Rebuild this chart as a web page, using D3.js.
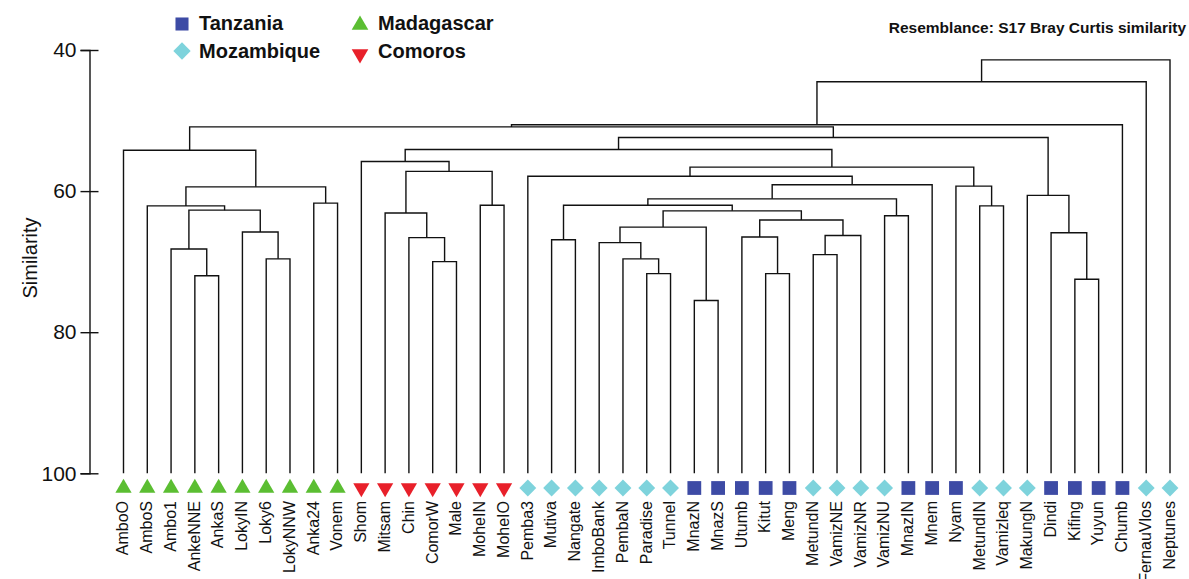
<!DOCTYPE html>
<html>
<head>
<meta charset="utf-8">
<script src="https://cdn.jsdelivr.net/npm/d3@7"></script>
<style>
  body { margin: 0; background: #fff; }
  svg { display: block; font-family: "Liberation Sans", Arial, sans-serif; }
</style>
</head>
<body>
<script>
// leaves, left to right
var leaves = ["AmboO","AmboS","Ambo1","AnkeNNE","AnkaS","LokyIN","Loky6","LokyNNW","Anka24","Vonem",
  "Shom","Mitsam","Chin","ComorW","Male","MoheIN","MoheIO",
  "Pemba3","Mutiva","Nangate","ImboBank","PembaN","Paradise","Tunnel",
  "MnazN","MnazS","Utumb","Kitut","Meng",
  "MetundN","VamizNE","VamizNR","VamizNU",
  "MnazIN","Mnem","Nyam",
  "MetundIN","Vamizleq","MakungN",
  "Dindi","Kifing","Yuyun","Chumb",
  "FernauVlos","Neptunes"];

var leafRegion = ["Madagascar","Madagascar","Madagascar","Madagascar","Madagascar","Madagascar","Madagascar","Madagascar","Madagascar","Madagascar",
  "Comoros","Comoros","Comoros","Comoros","Comoros","Comoros","Comoros",
  "Mozambique","Mozambique","Mozambique","Mozambique","Mozambique","Mozambique","Mozambique",
  "Tanzania","Tanzania","Tanzania","Tanzania","Tanzania",
  "Mozambique","Mozambique","Mozambique","Mozambique",
  "Tanzania","Tanzania","Tanzania",
  "Mozambique","Mozambique","Mozambique",
  "Tanzania","Tanzania","Tanzania","Tanzania",
  "Mozambique","Mozambique"];

// merges: [left, right, similarity]; a number refers to an earlier merge
var merges = [
  ["AnkeNNE","AnkaS",72.0],   // 0
  ["Ambo1",0,68.2],           // 1
  ["Loky6","LokyNNW",69.6],   // 2
  ["LokyIN",2,65.8],          // 3
  [1,3,62.7],                 // 4
  ["AmboS",4,62.1],           // 5
  ["Anka24","Vonem",61.7],    // 6
  [5,6,59.4],                 // 7
  ["AmboO",7,54.2],           // 8
  ["ComorW","Male",70.0],     // 9
  ["Chin",9,66.6],            // 10
  ["Mitsam",10,63.1],         // 11
  ["MoheIN","MoheIO",62.0],   // 12
  [11,12,57.2],               // 13
  ["Shom",13,55.8],           // 14
  ["Paradise","Tunnel",71.7], // 15
  ["PembaN",15,69.6],         // 16
  ["ImboBank",16,67.3],       // 17
  ["MnazN","MnazS",75.5],     // 18
  [17,18,65.1],               // 19
  ["Kitut","Meng",71.7],      // 20
  ["Utumb",20,66.5],          // 21
  ["MetundN","VamizNE",69.0], // 22
  [22,"VamizNR",66.3],        // 23
  [21,23,64.1],               // 24
  [19,24,62.8],               // 25
  ["Mutiva","Nangate",66.9],  // 26
  [26,25,62.0],               // 27
  ["VamizNU","MnazIN",63.5],  // 28
  [27,28,61.1],               // 29
  [29,"Mnem",59.1],           // 30
  ["Pemba3",30,57.9],         // 31
  ["MetundIN","Vamizleq",62.1], // 32
  ["Nyam",32,59.3],           // 33
  [31,33,56.6],               // 34
  [14,34,54.1],               // 35
  ["Kifing","Yuyun",72.5],    // 36
  ["Dindi",36,65.9],          // 37
  ["MakungN",37,60.6],        // 38
  [35,38,52.4],               // 39
  [8,39,50.9],                // 40
  [40,"Chumb",50.6],          // 41
  [41,"FernauVlos",44.5],     // 42
  [42,"Neptunes",41.4]        // 43
];

var yTicks = [40, 60, 80, 100];
var regions = ["Tanzania","Mozambique","Madagascar","Comoros"];

var regionColor = {
  Tanzania: "#3d4ba5",
  Mozambique: "#7ed3dc",
  Madagascar: "#5bbe32",
  Comoros: "#e8202a"
};

var width = 1189, height = 579;

var svg = d3.select("body").append("svg")
    .attr("width", width)
    .attr("height", height);

var x = d3.scalePoint().domain(leaves).range([123.5, 1170]);
var y = d3.scaleLinear().domain([40, 100]).range([50, 473.3]);

// build the tree from the merge list
var nodes = merges.map(function(m) {
  return { sim: m[2], kids: [m[0], m[1]] };
});
function toNode(k) {
  if (typeof k === "number") return nodes[k];
  return { name: k, sim: 100 };
}
nodes.forEach(function(n) { n.children = n.kids.map(toNode); });
var root = d3.hierarchy(nodes[nodes.length - 1]);

root.eachAfter(function(d) {
  if (d.children) d.x = d3.mean(d.children, function(c) { return c.x; });
  else d.x = x(d.data.name);
  d.y = y(d.data.sim);
});

// dendrogram links
var g = svg.append("g");
g.selectAll("path.link")
  .data(root.descendants().filter(function(d) { return d.children; }))
  .enter().append("path")
    .attr("class", "link")
    .attr("fill", "none")
    .attr("stroke", "#111")
    .attr("stroke-width", 1.4)
    .attr("d", function(d) {
      var a = d.children[0], b = d.children[1];
      return "M" + a.x + "," + a.y + "V" + d.y + "H" + b.x + "V" + b.y;
    });

// y axis
var axis = svg.append("g")
    .attr("transform", "translate(89.5,0)")
    .call(d3.axisLeft(y).tickValues(yTicks).tickSizeOuter(0).tickSize(9).tickPadding(5));
axis.select(".domain").attr("stroke", "#111").attr("stroke-width", 1.4);
axis.selectAll(".tick line").attr("x1", 9).attr("stroke", "#111").attr("stroke-width", 1.4);
axis.selectAll(".tick text")
    .attr("x", -13)
    .attr("fill", "#111")
    .style("font-size", "21px")
    .style("font-family", "Liberation Sans, Arial, sans-serif");

svg.append("text")
    .attr("transform", "translate(37,258) rotate(-90)")
    .attr("text-anchor", "middle")
    .style("font-size", "20px")
    .attr("fill", "#111")
    .text("Similarity");

// leaf markers
function symbolPath(region, size) {
  if (region === "Tanzania") return d3.symbol(d3.symbolSquare, size)();
  if (region === "Mozambique") return d3.symbol(d3.symbolSquare, size * 0.75)();
  return d3.symbol(d3.symbolTriangle, size * 0.6)();
}
function symbolRotate(region) {
  if (region === "Mozambique") return 45;
  if (region === "Comoros") return 180;
  return 0;
}

svg.append("g").selectAll("path")
  .data(leaves)
  .enter().append("path")
    .attr("transform", function(d, i) {
      return "translate(" + x(d) + ",488) rotate(" + symbolRotate(leafRegion[i]) + ")";
    })
    .attr("d", function(d, i) { return symbolPath(leafRegion[i], 190); })
    .attr("fill", function(d, i) { return regionColor[leafRegion[i]]; });

// leaf labels
svg.append("g").selectAll("text")
  .data(leaves)
  .enter().append("text")
    .attr("transform", function(d) { return "translate(" + x(d) + ",501) rotate(-90)"; })
    .attr("text-anchor", "end")
    .attr("dy", "0.3em")
    .style("font-size", "16px")
    .attr("fill", "#111")
    .text(function(d) { return d; });

// legend
var legendPos = [[182, 24, 199, 30], [182, 51, 199, 57.5], [360, 25, 378, 30], [360, 54, 378, 58]];
var legend = svg.append("g").selectAll("g")
  .data(regions)
  .enter().append("g");
legend.append("path")
    .attr("transform", function(d, i) {
      return "translate(" + legendPos[i][0] + "," + legendPos[i][1] + ") rotate(" + symbolRotate(d) + ")";
    })
    .attr("d", function(d) { return symbolPath(d, d === "Tanzania" ? 170 : 200); })
    .attr("fill", function(d) { return regionColor[d]; });
legend.append("text")
    .attr("x", function(d, i) { return legendPos[i][2]; })
    .attr("y", function(d, i) { return legendPos[i][3]; })
    .style("font-size", "20px")
    .style("font-weight", "bold")
    .attr("fill", "#111")
    .text(function(d) { return d; });

svg.append("text")
    .attr("x", 1186)
    .attr("y", 33)
    .attr("text-anchor", "end")
    .style("font-size", "15.5px")
    .style("font-weight", "bold")
    .attr("fill", "#111")
    .text("Resemblance: S17 Bray Curtis similarity");
</script>
</body>
</html>
